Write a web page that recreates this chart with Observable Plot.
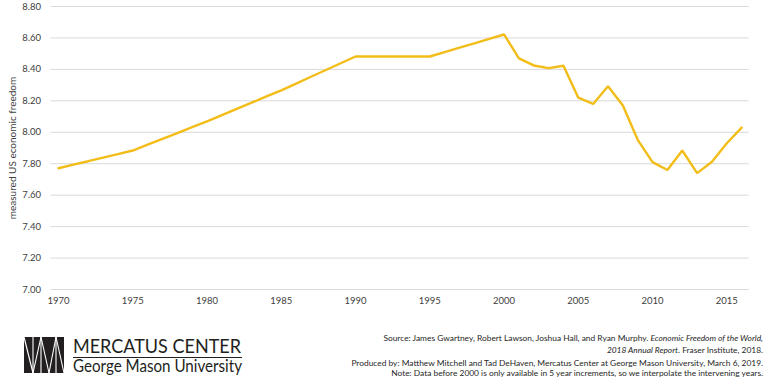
<!DOCTYPE html>
<html>
<head>
<meta charset="utf-8">
<script src="https://cdn.jsdelivr.net/npm/d3@7"></script>
<script src="https://cdn.jsdelivr.net/npm/@observablehq/plot@0.6"></script>
<style>
  html, body { margin: 0; padding: 0; background: #fff; }
  #wrap { position: relative; width: 768px; height: 383px; overflow: hidden; font-family: Lato, "Open Sans", sans-serif; }
  #chart { position: absolute; left: 0; top: 0; }
  #footer { position: absolute; left: 0; top: 310px; }
</style>
</head>
<body>
<div id="wrap">
  <div id="chart"></div>
  <svg id="footer" width="768" height="73" viewBox="0 310 768 73"></svg>
</div>
<script>
const years = d3.range(1970, 2017);
const freedom = [
  7.771, 7.794, 7.816, 7.839, 7.861, 7.884, 7.921, 7.958, 7.995, 8.033,
  8.070, 8.109, 8.149, 8.188, 8.228, 8.267, 8.310, 8.353, 8.396, 8.439,
  8.482, 8.482, 8.482, 8.482, 8.482, 8.482, 8.510, 8.538, 8.566, 8.594,
  8.622, 8.470, 8.425, 8.408, 8.423, 8.220, 8.180, 8.293, 8.170, 7.952,
  7.810, 7.760, 7.884, 7.740, 7.813, 7.930, 8.030
];
const xTicks = [1970, 1975, 1980, 1985, 1990, 1995, 2000, 2005, 2010, 2015];
const yTicks = [7.0, 7.2, 7.4, 7.6, 7.8, 8.0, 8.2, 8.4, 8.6, 8.8];
const yLabel = "measured US economic freedom";
const sourceLines = [
  ["Source: James Gwartney, Robert Lawson, Joshua Hall, and Ryan Murphy. ", "Economic Freedom of the World,", ""],
  ["", "2018 Annual Report", ". Fraser Institute, 2018."],
  ["Produced by: Matthew Mitchell and Tad DeHaven, Mercatus Center at George Mason University, March 6, 2019.", "", ""],
  ["Note: Data before 2000 is only available in 5 year increments, so we interpolate the intervening years.", "", ""]
];

const data = years.map((y, i) => ({year: y, value: freedom[i]}));

const chart = Plot.plot({
  width: 768,
  height: 310,
  marginLeft: 50.6,
  marginRight: 19.4,
  marginTop: 6,
  marginBottom: 21,
  style: {fontFamily: "Lato, 'Open Sans', sans-serif", fontSize: "9.5px", color: "#404040", background: "#fff"},
  x: {domain: [1969.5, 2016.5], ticks: xTicks, tickFormat: d => String(d), label: null},
  y: {domain: [7, 8.8], ticks: yTicks, tickFormat: d => d.toFixed(2), label: null},
  marks: [
    Plot.gridY(yTicks, {stroke: "#d9d9d9", strokeOpacity: 1, strokeWidth: 1}),
    Plot.axisY(yTicks, {tickSize: 0, tickPadding: 10, tickFormat: d => d.toFixed(2), fill: "#404040", fontSize: 9.5}),
    Plot.axisX(xTicks, {tickSize: 0, tickPadding: 8, tickFormat: d => String(d), fill: "#404040", fontSize: 9.5}),
    Plot.line(data, {x: "year", y: "value", stroke: "#f2bd19", strokeWidth: 2.4, strokeLinejoin: "miter"}),
    Plot.text([yLabel], {text: d => d, frameAnchor: "left", textAnchor: "middle", dx: -38, rotate: -90, fontSize: 10, fill: "#404040"})
  ]
});
document.getElementById("chart").appendChild(chart);

// footer
const f = d3.select("#footer");
const lg = f.append("g");
lg.append("rect").attr("x", 24).attr("y", 337).attr("width", 40).attr("height", 36).attr("fill", "#231f20");
const wl = [[24,337,33,373],[33,373,41,337],[41,337,41,373],[41,337,49,373],[49,373,56,337],[56,337,64,373],[33,337,33,373],[56,337,56,373]];
wl.forEach(([x1,y1,x2,y2]) => lg.append("line").attr("x1",x1).attr("y1",y1).attr("x2",x2).attr("y2",y2).attr("stroke","#fff").attr("stroke-width",1.1));
lg.append("text").attr("x", 73).attr("y", 352.5).attr("font-size", 19).attr("fill", "#231f20")
  .attr("textLength", 168).attr("lengthAdjust", "spacingAndGlyphs").attr("font-family", "Lato, 'Open Sans', sans-serif").text("MERCATUS CENTER");
lg.append("line").attr("x1", 73).attr("x2", 242).attr("y1", 357.5).attr("y2", 357.5).attr("stroke", "#231f20").attr("stroke-width", 1);
lg.append("text").attr("x", 73).attr("y", 372).attr("font-size", 17).attr("fill", "#231f20")
  .attr("textLength", 169).attr("lengthAdjust", "spacingAndGlyphs").attr("font-family", "Lato, 'Open Sans', sans-serif").text("George Mason University");

const ys = [341, 353, 365.5, 376];
sourceLines.forEach((parts, i) => {
  const t = f.append("text").attr("x", 763).attr("y", ys[i]).attr("text-anchor", "end")
    .attr("font-size", 8.4).attr("fill", "#262626").attr("font-family", "Lato, 'Open Sans', sans-serif");
  if (parts[0]) t.append("tspan").text(parts[0]);
  if (parts[1]) t.append("tspan").attr("font-style", "italic").text(parts[1]);
  if (parts[2]) t.append("tspan").text(parts[2]);
});
</script>
</body>
</html>
